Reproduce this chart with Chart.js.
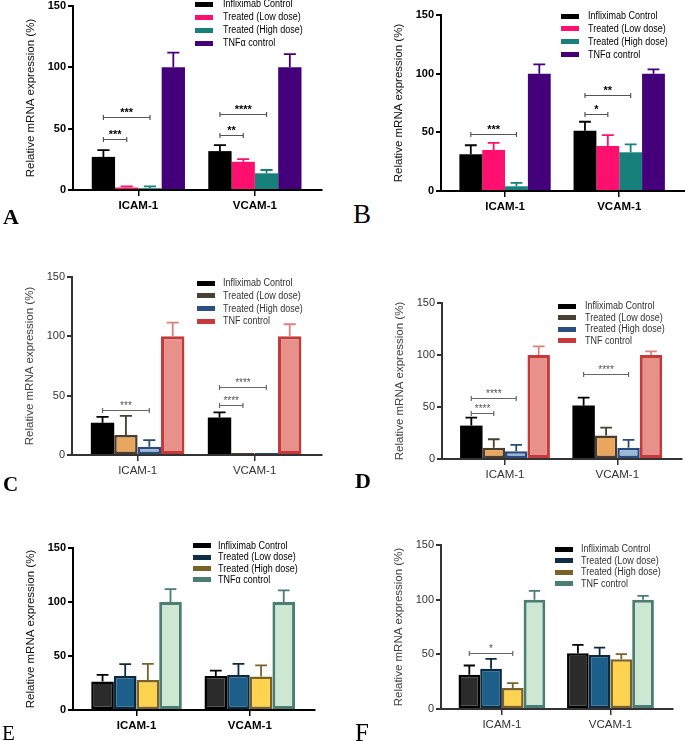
<!DOCTYPE html>
<html>
<head>
<meta charset="utf-8">
<title>Relative mRNA expression</title>
<script src="https://cdn.jsdelivr.net/npm/chart.js@4.4.1/dist/chart.umd.min.js"></script>
<style>
  body { margin: 0; width: 685px; height: 741px; overflow: hidden; background: #fff; position: relative;
         font-family: 'Liberation Sans', Arial, sans-serif; }
  canvas { position: absolute; }
  .lbox { position: absolute; height: 5px; width: 18px; }
  .ltxt { position: absolute; font-size: 10px; line-height: 14px; white-space: nowrap;
          transform: scaleX(0.9); transform-origin: 0 50%; }
  .letter { position: absolute; font-family: 'Liberation Serif', 'Times New Roman', serif; line-height: 1; }
</style>
</head>
<body>
<script>
const genes = ['ICAM-1', 'VCAM-1'];
const groupsAlpha = ['Infliximab Control', 'Treated (Low dose)', 'Treated (High dose)', 'TNFα control'];
const groupsPlain = ['Infliximab Control', 'Treated (Low dose)', 'Treated (High dose)', 'TNF control'];
const yTicks = [0, 50, 100, 150];

// rows: control, low dose, high dose, TNF ; columns: ICAM-1, VCAM-1
const meanA = [[27, 31.7], [2, 23], [1.5, 13.6], [100, 100]];
const errA  = [[32.5, 36.6], [3, 25.2], [3, 16.3], [112, 110.7]];
const sigA  = [[0, 0, 1, 41.5, '***'], [0, 0, 2, 59.6, '***'], [1, 0, 1, 44.5, '**'], [1, 0, 2, 61.7, '****']];

const meanB = [[31.3, 51.4], [35, 38.4], [4, 33], [100, 100]];
const errB  = [[39, 59], [41, 47.7], [7, 39.8], [108, 103.7]];
const sigB  = [[0, 0, 2, 48.3, '***'], [1, 0, 1, 65.4, '*'], [1, 0, 2, 81.8, '**']];

const meanC = [[27.2, 31.7], [16.8, 1.6], [7, 1.6], [100, 100]];
const errC  = [[32.2, 35.9], [33, null], [12.6, null], [111.6, 110.2]];
const sigC  = [[0, 0, 2, 37.8, '***'], [1, 0, 1, 42, '****'], [1, 0, 2, 57, '****']];

const meanD = [[32.1, 51.4], [10.9, 22.5], [7.4, 10.9], [100, 100]];
const errD  = [[39.8, 59], [19, 30.2], [13.5, 18.3], [108.2, 103.4]];
const sigD  = [[0, 0, 1, 44, '****'], [0, 0, 2, 59, '****'], [1, 0, 2, 81.9, '****']];

const meanE = [[26.3, 31.5], [31.5, 32.5], [27.8, 31], [100, 100]];
const errE  = [[32.5, 36.5], [42.4, 42.7], [42.7, 41.4], [112, 110.7]];
const sigE  = [];

const meanF = [[31.3, 51.1], [36.8, 49.5], [19.1, 45.6], [100, 100]];
const errF  = [[39.8, 58.7], [45.9, 56.2], [23.7, 50.2], [108, 103.4]];
const sigF  = [[0, 0, 2, 51.1, '*']];

const vivid = {
  fill:   ['#000000', '#ff0f6e', '#17807b', '#44007a'],
  border: ['#000000', '#ff0f6e', '#17807b', '#44007a'],
  bw:     [0, 0, 0, 0],
  err:    ['#000000', '#ff0f6e', '#17807b', '#44007a'],
  legend: ['#000000', '#ff0f6e', '#17807b', '#44007a']
};
const warm = {
  fill:   ['#000000', '#e8a65e', '#9bb7d8', '#e8918b'],
  border: ['#000000', '#4a3e2e', '#2a4c7c', '#c43a3b'],
  bw:     [0, 2.5, 2.5, 3],
  err:    ['#000000', '#4a3e2e', '#2a4c7c', '#d8837e'],
  legend: ['#000000', '#4a4033', '#2a4f85', '#c8393b']
};
const cool = {
  fill:   ['#2b2b2b', '#1d5f8b', '#fdd34f', '#cde7d2'],
  border: ['#000000', '#0b2a3d', '#7a6127', '#4c7d72'],
  bw:     [2.5, 2.5, 2.5, 3],
  err:    ['#000000', '#0b2a3d', '#7a6127', '#4c7d72'],
  legend: ['#000000', '#0d2e44', '#7a6127', '#4c7d72']
};

const boldText  = { weight: 'bold', ink: '#000', title: '#111', axis: '#000', sigFont: 'bold 11px "Liberation Sans", Arial', sigLine: '#555', sigInk: '#000' };
const lightText = { weight: 'normal', ink: '#333', title: '#444', axis: '#333', sigFont: '10px "Liberation Sans", Arial', sigLine: '#666', sigInk: '#555' };

const panels = [
  { mean: meanA, err: errA, sig: sigA, names: groupsAlpha, pal: vivid, txt: boldText,
    x0: 73, x1: 322, yTop: 6, yBot: 190, legend: [195, 223, 4, 13],
    letter: ['A', 3, 206, 22, 'bold'] },
  { mean: meanB, err: errB, sig: sigB, names: groupsAlpha, pal: vivid, txt: boldText,
    x0: 441, x1: 685, yTop: 15, yBot: 191, legend: [561, 588, 16, 12.9],
    letter: ['B', 353, 201, 27, 'normal'] },
  { mean: meanC, err: errC, sig: sigC, names: groupsPlain, pal: warm, txt: lightText,
    x0: 72, x1: 322, yTop: 277, yBot: 455, legend: [197, 223, 283.3, 12.6],
    letter: ['C', 3, 474, 21, 'bold'] },
  { mean: meanD, err: errD, sig: sigD, names: groupsPlain, pal: warm, txt: lightText,
    x0: 442, x1: 682, yTop: 303, yBot: 459, legend: [558, 585, 306, 11.6],
    letter: ['D', 355, 470, 22, 'bold'] },
  { mean: meanE, err: errE, sig: sigE, names: groupsAlpha, pal: cool, txt: boldText,
    x0: 73, x1: 315, yTop: 548, yBot: 710, legend: [193, 218, 545.7, 11.4],
    letter: ['E', 2, 723, 21, 'normal'] },
  { mean: meanF, err: errF, sig: sigF, names: groupsPlain, pal: cool, txt: lightText,
    x0: 441, x1: 673, yTop: 545, yBot: 709, legend: [555, 581, 549, 11.6],
    letter: ['F', 355, 720, 25, 'normal'] }
];

Chart.defaults.font.family = "'Liberation Sans', Arial, sans-serif";

function addDiv(cls, css, text) {
  const d = document.createElement('div');
  d.className = cls;
  Object.assign(d.style, css);
  if (text) d.textContent = text;
  document.body.appendChild(d);
}

function buildPanel(p) {
  const left = p.x0 - 60, top = p.yTop - 15;
  const canvas = document.createElement('canvas');
  canvas.width = p.x1 - left + 3;
  canvas.height = p.yBot - top + 30;
  canvas.style.left = left + 'px';
  canvas.style.top = top + 'px';
  document.body.appendChild(canvas);

  const errorBars = {
    id: 'errorBars',
    afterDatasetsDraw(chart) {
      const ctx = chart.ctx, y = chart.scales.y;
      chart.data.datasets.forEach((ds, di) => {
        chart.getDatasetMeta(di).data.forEach((bar, i) => {
          const hi = p.err[di][i];
          if (hi == null || hi <= p.mean[di][i]) return;
          const yt = y.getPixelForValue(hi), cap = bar.width * 0.26;
          ctx.save();
          ctx.strokeStyle = p.pal.err[di];
          ctx.lineWidth = 1.8;
          ctx.beginPath();
          ctx.moveTo(bar.x, bar.y);
          ctx.lineTo(bar.x, yt);
          ctx.moveTo(bar.x - cap, yt);
          ctx.lineTo(bar.x + cap, yt);
          ctx.stroke();
          ctx.restore();
        });
      });
    }
  };

  const sigBars = {
    id: 'sigBars',
    afterDatasetsDraw(chart) {
      const ctx = chart.ctx, y = chart.scales.y;
      p.sig.forEach(([cat, a, b, val, label]) => {
        const xa = chart.getDatasetMeta(a).data[cat].x;
        const xb = chart.getDatasetMeta(b).data[cat].x;
        const yy = Math.round(y.getPixelForValue(val)) + 0.5;
        ctx.save();
        ctx.strokeStyle = p.txt.sigLine;
        ctx.lineWidth = 1.2;
        ctx.beginPath();
        ctx.moveTo(xa, yy); ctx.lineTo(xb, yy);
        ctx.moveTo(xa, yy - 2.5); ctx.lineTo(xa, yy + 2.5);
        ctx.moveTo(xb, yy - 2.5); ctx.lineTo(xb, yy + 2.5);
        ctx.stroke();
        ctx.fillStyle = p.txt.sigInk;
        ctx.font = p.txt.sigFont;
        ctx.textAlign = 'center';
        ctx.textBaseline = 'alphabetic';
        ctx.fillText(label, (xa + xb) / 2, yy - 2);
        ctx.restore();
      });
    }
  };

  const datasets = p.mean.map((vals, g) => ({
    label: p.names[g],
    data: vals.map((v, i) => ({ x: i + 1, y: v })),
    backgroundColor: p.pal.fill[g],
    borderColor: p.pal.border[g],
    borderWidth: p.pal.bw[g],
    borderSkipped: false,
    categoryPercentage: 0.8,
    barPercentage: 1
  }));

  new Chart(canvas, {
    type: 'bar',
    data: { datasets },
    plugins: [errorBars, sigBars],
    options: {
      responsive: false,
      animation: false,
      events: [],
      layout: { padding: { left: 11, top: 15, right: 3, bottom: 0 } },
      plugins: { legend: { display: false }, tooltip: { enabled: false } },
      scales: {
        x: {
          type: 'linear', min: 0.439, max: 2.576, offset: false,
          afterBuildTicks: s => { s.ticks = genes.map((g, i) => ({ value: i + 1 })); },
          afterFit: s => { s.height = 30; },
          ticks: {
            callback: (v, i) => genes[i], autoSkip: false, maxRotation: 0, padding: 3,
            color: p.txt.ink, font: { size: 11.5, weight: p.txt.weight }
          },
          grid: { display: true, drawOnChartArea: false, drawTicks: true, tickLength: 6,
                  color: p.txt.axis, lineWidth: 1.5, offset: false },
          border: { display: true, color: p.txt.axis, width: 2 }
        },
        y: {
          min: 0, max: 150,
          afterFit: s => { s.width = 49; },
          afterBuildTicks: s => { s.ticks = yTicks.map(v => ({ value: v })); },
          ticks: { padding: 2, color: p.txt.ink, font: { size: 11, weight: p.txt.weight } },
          grid: { display: true, drawOnChartArea: false, drawTicks: true, tickLength: 5,
                  color: p.txt.axis, lineWidth: 2 },
          border: { display: true, color: p.txt.axis, width: 2 },
          title: { display: true, text: 'Relative mRNA expression (%)', padding: 0,
                   color: p.txt.title, font: { size: 11.5 } }
        }
      }
    }
  });

  const [boxX, textX, rowY, step] = p.legend;
  p.names.forEach((name, g) => {
    const cy = rowY + g * step;
    addDiv('lbox', { left: boxX + 'px', top: (cy - 2.5) + 'px', background: p.pal.legend[g] });
    addDiv('ltxt', { left: textX + 'px', top: (cy - 7) + 'px', color: p.txt.ink }, name);
  });

  const [ch, lx, ly, size, weight] = p.letter;
  addDiv('letter', { left: lx + 'px', top: ly + 'px', fontSize: size + 'px', fontWeight: weight }, ch);
}

panels.forEach(buildPanel);
</script>
</body>
</html>
